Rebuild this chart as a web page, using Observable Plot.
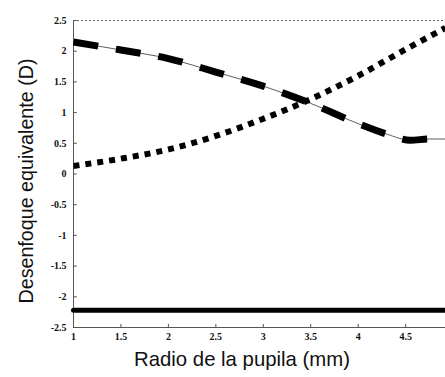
<!DOCTYPE html>
<html><head><meta charset="utf-8">
<script src="https://cdn.jsdelivr.net/npm/d3@7"></script>
<script src="https://cdn.jsdelivr.net/npm/@observablehq/plot@0.6"></script>
<style>body{margin:0;background:#fff}</style>
</head><body><div id="chart"></div>
<script>
const xTicks = [1, 1.5, 2, 2.5, 3, 3.5, 4, 4.5];
const yTicks = [-2.5, -2, -1.5, -1, -0.5, 0, 0.5, 1, 1.5, 2, 2.5];
const dashedX = [1, 1.5, 2, 2.5, 3, 3.5, 4, 4.3, 4.55, 4.75, 4.92];
const dashedY = [2.15, 2.02, 1.88, 1.66, 1.43, 1.15, 0.82, 0.65, 0.55, 0.57, 0.57];
const dottedX = [1, 1.5, 2, 2.5, 3, 3.5, 4, 4.5, 4.92];
const dottedY = [0.13, 0.25, 0.4, 0.62, 0.9, 1.22, 1.6, 2.03, 2.38];
const solidX = [1, 4.92];
const solidY = [-2.22, -2.22];
const xLabel = "Radio de la pupila (mm)";
const yLabel = "Desenfoque equivalente (D)";

const dashed = dashedX.map((x, i) => ({x, y: dashedY[i]}));
const dotted = dottedX.map((x, i) => ({x, y: dottedY[i]}));
const solid = solidX.map((x, i) => ({x, y: solidY[i]}));
const fmt = d => String(d);

const chart = Plot.plot({
  width: 445, height: 377,
  marginLeft: 73, marginRight: 0, marginTop: 20, marginBottom: 50,
  x: {domain: [1, 4.92]},
  y: {domain: [-2.5, 2.5]},
  style: {background: "#fff"},
  marks: [
    Plot.ruleY([2.5], {stroke: "#666", strokeWidth: 1, strokeDasharray: "2,2"}),
    Plot.ruleY([-2.5], {stroke: "#555", strokeWidth: 1}),
    Plot.ruleX([1], {stroke: "#555", strokeWidth: 1}),
    Plot.ruleX(xTicks, {x: d => d, y1: -2.5, y2: -2.45, stroke: "#555"}),
    Plot.ruleY(yTicks, {y: d => d, x1: 1, x2: 1.04, stroke: "#555"}),
    Plot.axisX(xTicks, {tickSize: 0, tickPadding: 5, tickFormat: fmt, label: null,
      fontFamily: "Liberation Serif", fontWeight: "bold", fontSize: 10, fill: "#111"}),
    Plot.axisY(yTicks, {tickSize: 0, tickPadding: 7, tickFormat: fmt, label: null,
      fontFamily: "Liberation Serif", fontWeight: "bold", fontSize: 10, fill: "#111"}),
    Plot.line(solid, {x: "x", y: "y", stroke: "#000", strokeWidth: 5}),
    Plot.line(dashed, {x: "x", y: "y", curve: "monotone-x", stroke: "#333", strokeWidth: 0.8}),
    Plot.line(dashed, {x: "x", y: "y", curve: "monotone-x", stroke: "#000", strokeWidth: 7, strokeDasharray: "25,18", strokeLinecap: "butt"}),
    Plot.line(dotted, {x: "x", y: "y", curve: "monotone-x", stroke: "#000", strokeWidth: 6, strokeDasharray: "6,6", strokeLinecap: "butt"}),
    Plot.text([xLabel], {text: d => d, frameAnchor: "bottom", dx: -17.5, dy: 38, fontFamily: "Liberation Sans", fontSize: 21, fill: "#111", className: "xlab"}),
    Plot.text([yLabel], {text: d => d, frameAnchor: "left", textAnchor: "middle", rotate: -90, dx: -47, dy: 7, fontFamily: "Liberation Sans", fontSize: 21, fill: "#111", className: "ylab"})
  ]
});
d3.select(chart).select(".xlab text").attr("textLength", 216).attr("lengthAdjust", "spacingAndGlyphs");
d3.select(chart).select(".ylab text").attr("textLength", 245).attr("lengthAdjust", "spacingAndGlyphs");
document.getElementById("chart").appendChild(chart);
</script>
</body></html>
